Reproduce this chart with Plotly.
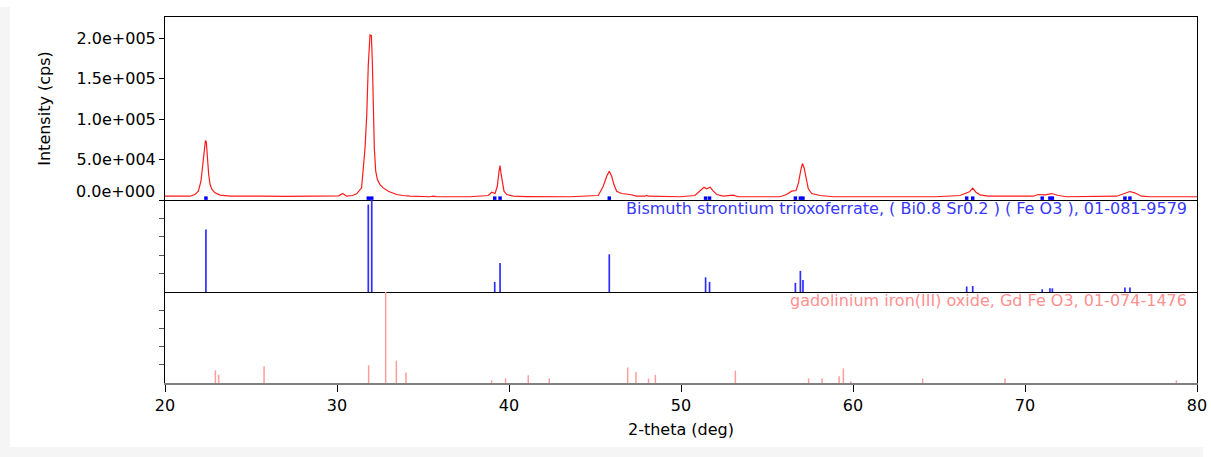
import plotly.graph_objects as go
from plotly.subplots import make_subplots

# ---------------- data ----------------
two_theta = [20.0, 21.0, 21.45, 21.74, 21.94, 22.09, 22.19, 22.27, 22.35, 22.40, 22.46, 22.54, 22.62, 22.73,
             22.91, 23.2, 23.78, 24.6, 24.75, 24.9, 25.4, 25.55, 25.7, 27.0, 28.5, 28.9, 29.1, 29.59, 30.1,
             30.33, 30.56, 30.9, 31.14, 31.43, 31.53, 31.63, 31.73, 31.82, 31.92, 32.00, 32.06, 32.11, 32.17,
             32.25, 32.35, 32.5, 32.69, 32.98, 33.47, 33.84, 34.24, 35.4, 35.6, 35.8, 37.73, 38.8, 38.99,
             39.19, 39.32, 39.42, 39.48, 39.53, 39.61, 39.71, 39.87, 40.25, 41.0, 43.55, 45.19, 45.48, 45.68,
             45.83, 45.97, 46.1, 46.26, 46.55, 47.03, 47.42, 47.9, 48.0, 48.1, 49.94, 50.81, 51.1, 51.34,
             51.49, 51.69, 51.88, 52.08, 52.46, 53.04, 53.33, 55.76, 56.14, 56.43, 56.69, 56.83, 56.97, 57.06,
             57.16, 57.27, 57.4, 57.6, 58.08, 58.86, 64.48, 64.65, 64.8, 66.22, 66.51, 66.77, 66.96, 67.15,
             67.38, 67.87, 70.48, 70.77, 71.16, 71.55, 71.94, 72.42, 75.33, 75.71, 76.1, 76.38, 76.78, 77.27,
             80.0]
intensity = [4700, 4500, 4700, 6800, 10900, 23200, 43800, 60200, 73500, 72000, 52000, 31500, 19100, 13000,
             8900, 6000, 4700, 4700, 5400, 4700, 4800, 5600, 4800, 4500, 4700, 5400, 4800, 4700, 5200,
             8000, 4700, 5600, 7600, 15000, 39700, 64400, 105500, 167300, 204300, 203500, 167300, 113800, 64400,
             35600, 25300, 19100, 15000, 10900, 6800, 5600, 4700, 4000, 4700, 4000, 4000, 5600, 9600,
             8000, 17000, 35600, 42600, 33600, 21200, 10900, 6800, 4700, 4300, 4000, 5600, 17000, 29400,
             35600, 29400, 19100, 10900, 8000, 6800, 4700, 4700, 5600, 4700, 4000, 5600, 10900, 15800,
             13800, 15800, 10900, 6800, 4700, 6000, 4000, 4000, 6800, 10900, 11700, 21200, 37700, 45100,
             39700, 25300, 13800, 8000, 5600, 4000, 4000, 4700, 4000, 5600, 7600, 10100, 14600, 9600,
             6400, 4700, 4700, 6800, 6400, 8000, 5600, 4000, 4700, 7200, 10500, 8900, 4700, 4000,
             4000]

# Bismuth strontium trioxoferrate reference lines (relative intensity, %)
bsfo_pos = [22.38, 31.82, 32.02, 39.17, 39.48, 45.83, 51.43, 51.66, 56.65, 56.94, 57.09,
            66.61, 66.96, 71.00, 71.45, 71.59, 75.81, 76.10]
bsfo_int = [68, 95, 100, 11, 31.5, 41, 16, 11, 10, 23, 13,
            6, 6.5, 3, 4, 4, 5, 5]

# gadolinium iron(III) oxide reference lines (relative intensity, %)
gfo_pos = [22.93, 23.12, 25.76, 31.84, 32.83, 33.45, 34.01, 38.99, 39.80, 41.12, 42.34,
           46.90, 47.38, 48.11, 48.51, 53.16, 57.42, 58.20, 59.19, 59.44, 59.87, 64.05, 68.84, 78.80]
gfo_int = [14, 9, 18.5, 19.5, 100, 24.5, 11.5, 3, 5, 8.5, 5,
           17, 12, 5, 9, 13.5, 5, 5, 7.5, 16, 2, 5, 5, 3]

y_tick_vals = [50000, 100000, 150000, 200000]
y_tick_text = ["5.0e+004", "1.0e+005", "1.5e+005", "2.0e+005"]
zero_label = "0.0e+000"
x_tick_vals = [20, 30, 40, 50, 60, 70, 80]

bsfo_label = "Bismuth strontium trioxoferrate, ( Bi0.8 Sr0.2 ) ( Fe O3 ), 01-081-9579"
gfo_label = "gadolinium iron(III) oxide, Gd Fe O3, 01-074-1476"

# ---------------- figure ----------------
FONT = "DejaVu Sans"
fig = make_subplots(rows=3, cols=1, shared_xaxes=True, vertical_spacing=0,
                    row_heights=[0.5, 0.2514, 0.2486])

fig.add_trace(go.Scatter(x=two_theta, y=intensity, mode="lines",
                         line=dict(color="#ff1a1a", width=1.2), hoverinfo="skip"), row=1, col=1)

# position markers of the blue phase on the pattern baseline
fig.add_trace(go.Scatter(x=bsfo_pos, y=[2300] * len(bsfo_pos), mode="markers",
                         marker=dict(symbol="square", size=3.5, color="#0000ff", line=dict(width=0)),
                         hoverinfo="skip", cliponaxis=False), row=1, col=1)


def sticks(pos, hts):
    xs, ys = [], []
    for p, h in zip(pos, hts):
        xs += [p, p, None]
        ys += [0, h, None]
    return xs, ys


bx, by = sticks(bsfo_pos, bsfo_int)
fig.add_trace(go.Scatter(x=bx, y=by, mode="lines", line=dict(color="#2e2eff", width=1.7),
                         hoverinfo="skip"), row=2, col=1)
gx, gy = sticks(gfo_pos, gfo_int)
fig.add_trace(go.Scatter(x=gx, y=gy, mode="lines", line=dict(color="#ff9c9c", width=1.5),
                         hoverinfo="skip"), row=3, col=1)

# x axes
fig.update_xaxes(range=[20, 80], showgrid=False, zeroline=False)
fig.update_xaxes(row=1, col=1, showline=True, mirror=True, linecolor="black", linewidth=1,
                 ticks="", showticklabels=False)
fig.update_xaxes(row=2, col=1, showline=True, mirror=False, linecolor="black", linewidth=1,
                 ticks="", showticklabels=False)
fig.update_xaxes(row=3, col=1, showline=True, linecolor="#808080", linewidth=2,
                 ticks="outside", ticklen=7, tickwidth=1, tickcolor="black",
                 tickvals=x_tick_vals, ticktext=[str(v) for v in x_tick_vals],
                 tickfont=dict(family=FONT, size=16, color="black"),
                 title=dict(text="2-theta (deg)", font=dict(family=FONT, size=16, color="black"),
                            standoff=10))

# y axes
fig.update_yaxes(row=1, col=1, range=[0, 226500], showgrid=False, zeroline=False,
                 showline=True, mirror=True, linecolor="black", linewidth=1,
                 ticks="outside", ticklen=5, tickcolor="black",
                 tickvals=[0] + y_tick_vals, ticktext=[""] + y_tick_text,
                 tickfont=dict(family=FONT, size=16, color="black"),
                 title=dict(text="Intensity (cps)", font=dict(family=FONT, size=16, color="black"),
                            standoff=21))
for r in (2, 3):
    fig.update_yaxes(row=r, col=1, range=[0, 100], showgrid=False, zeroline=False,
                     showline=True, mirror=True, linecolor="black", linewidth=1,
                     ticks="outside", ticklen=5, tickcolor="#555555",
                     tickvals=[20, 40, 60, 80], showticklabels=False)

PL, PR, PT, PB = 165, 14, 17, 74
W, H = 1219, 457          # the page renders the figure 8 px narrower than requested
pw = 1211 - PL - PR       # effective plot-area width on screen
ph = H - PT - PB


def px_x(px):
    return (px - PL) / pw


def px_y(py):
    return (H - PB - py) / ph


fig.add_annotation(xref="paper", yref="paper", x=px_x(1189), y=px_y(208), text=bsfo_label,
                   showarrow=False, xanchor="right", yanchor="middle",
                   font=dict(family=FONT, size=16, color="#3838ff"))
fig.add_annotation(xref="paper", yref="paper", x=px_x(1189), y=px_y(300), text=gfo_label,
                   showarrow=False, xanchor="right", yanchor="middle",
                   font=dict(family=FONT, size=16, color="#ff9090"))
fig.add_annotation(xref="paper", yref="paper", x=px_x(157), y=px_y(191.5), text=zero_label,
                   showarrow=False, xanchor="right", yanchor="middle",
                   font=dict(family=FONT, size=16, color="black"))

# light grey window frame (left strip and bottom band)
fig.add_shape(type="rect", xref="paper", yref="paper", layer="below",
              x0=px_x(0), x1=px_x(10), y0=px_y(457), y1=px_y(7),
              fillcolor="#f5f5f5", line=dict(width=0))
fig.add_shape(type="rect", xref="paper", yref="paper", layer="below",
              x0=px_x(0), x1=px_x(1203), y0=px_y(457), y1=px_y(447),
              fillcolor="#f5f5f5", line=dict(width=0))

fig.update_layout(width=W, height=H, autosize=False, showlegend=False,
                  margin=dict(l=PL, r=PR, t=PT, b=PB),
                  paper_bgcolor="white", plot_bgcolor="white",
                  font=dict(family=FONT, size=16, color="black"))

fig.write_html("out.html",
               config={"responsive": False, "displayModeBar": False},
               post_script="document.body.style.margin='0';document.body.style.overflow='hidden';")
